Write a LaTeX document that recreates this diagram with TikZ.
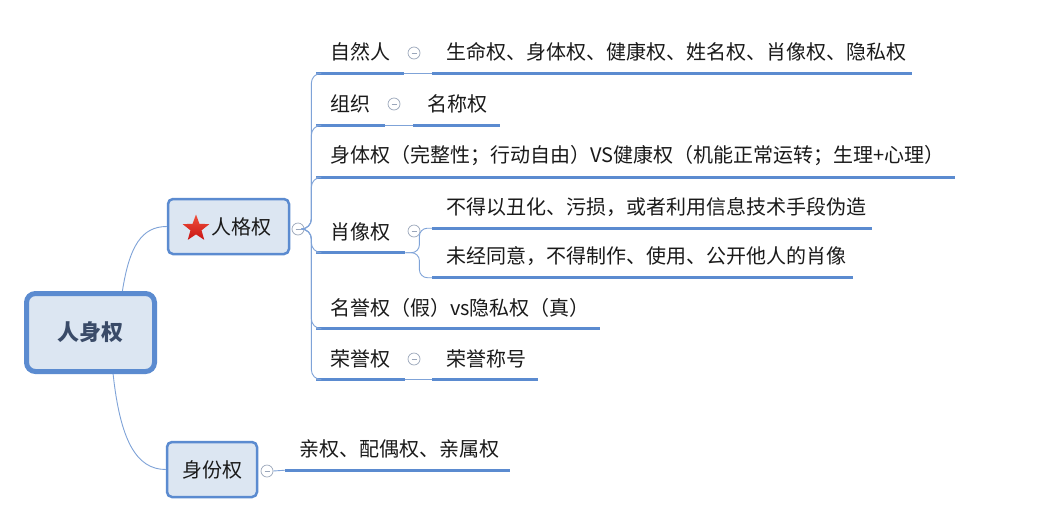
\documentclass[tikz,border=0pt]{standalone}
\usepackage{fontspec}
\setmainfont{Noto Sans CJK SC}
\usetikzlibrary{shapes.geometric,calc}
\definecolor{ln}{HTML}{5B8BD0}
\definecolor{thinln}{HTML}{7FA3D8}
\definecolor{nfill}{HTML}{DCE6F2}
\definecolor{nborder}{HTML}{5B8BD0}
\definecolor{roottext}{HTML}{3A4B68}
\definecolor{txt}{HTML}{1A1A1A}
\definecolor{cbord}{HTML}{9AA6BA}
\definecolor{starA}{HTML}{F0503C}
\definecolor{starB}{HTML}{C81414}
\begin{document}
\begin{tikzpicture}[x=1pt,y=-1pt,
  font=\fontsize{20}{24}\selectfont,
  rootbox/.style={draw=nborder, line width=5pt, fill=nfill, rounded corners=9pt,
    minimum width=128pt, minimum height=78pt, inner sep=0pt, text=roottext,
    font=\fontsize{22}{26}\selectfont\bfseries},
  mainbox/.style={draw=nborder, line width=2.5pt, fill=nfill, rounded corners=5pt,
    inner sep=0pt, minimum height=55pt, text=txt},
  topic/.style={anchor=west, inner xsep=14pt, inner ysep=0pt, minimum height=42pt,
    text width=#1, align=left, text=txt},
  uline/.style={draw=ln, line width=3.2pt},
  thin/.style={draw=thinln, line width=0.9pt},
  fold/.style={circle, draw=cbord, fill=white, line width=0.7pt, minimum size=12pt,
    inner sep=0pt, path picture={\draw[cbord, line width=0.7pt]
      ([xshift=-2.5pt]path picture bounding box.center) --
      ([xshift=2.5pt]path picture bounding box.center);}},
  starnode/.style={star, star points=5, star point ratio=2.4, top color=starA,
    bottom color=starB, draw=none, minimum size=28pt, inner sep=0pt}
]
\useasboundingbox[fill=white] (0,0) rectangle (1043,512);

% main nodes
\node[rootbox] (root) at (90.5,332.5) {人身权};
\node[mainbox, minimum width=121pt] (pg) at (228.5,226.5) {\hspace{26pt}人格权};
\node[starnode] (star) at (196,228.5) {};
\node[mainbox, minimum width=90pt] (sf) at (212,469.5) {身份权};
\node[fold] (f0) at (298,229) {};
\node[fold] (f5) at (267,471) {};

% topics
\node[topic=60pt] (zrr) at (316,52) {自然人};
\node[fold] (f1) at (414,53) {};
\node[topic=452pt] (zrrC) at (432,52) {\mbox{生命权、身体权、健康权、姓名权、肖像权、隐私权}};
\node[topic=41pt] (zz) at (316,104) {组织};
\node[fold] (f2) at (394,104) {};
\node[topic=59pt] (zzC) at (413,104) {名称权};
\node[topic=611pt] (st) at (316,156) {\mbox{身体权（完整性；行动自由）VS健康权（机能正常运转；生理+心理）}};
\node[topic=61pt] (xx) at (316,231.5) {肖像权};
\node[fold] (f3) at (414,231) {};
\node[topic=412pt] (xx1) at (432,207) {\mbox{不得以丑化、污损，或者利用信息技术手段伪造}};
\node[topic=393pt] (xx2) at (432,256.5) {\mbox{未经同意，不得制作、使用、公开他人的肖像}};
\node[topic=256pt] (my) at (316,307.5) {\mbox{名誉权（假）vs隐私权（真）}};
\node[topic=61pt] (ry) at (316,358.5) {荣誉权};
\node[fold] (f4) at (414,359) {};
\node[topic=78pt] (ryC) at (432,358.5) {荣誉称号};
\node[topic=197pt] (sfC) at (285,449) {\mbox{亲权、配偶权、亲属权}};

% underlines
\foreach \n in {zrr,zrrC,zz,zzC,st,xx,xx1,xx2,my,ry,ryC,sfC}
  \draw[uline] (\n.south west) -- (\n.south east);

% root connectors
\coordinate (rt) at ($(root.north west)!0.74!(root.north east)$);
\coordinate (rb) at ($(root.south west)!0.67!(root.south east)$);
\draw[thin] (rt) .. controls ($(rt)+(7,-45)$) and ($(pg.west)+(-25,0)$) .. (pg.west);
\draw[thin] (rb) .. controls ($(rb)+(7,65)$) and ($(sf.west)+(-30,0)$) .. (sf.west);

% spine from 人格权
\coordinate (j0) at ($(f0.east)+(7,0)$);
\foreach \c in {zrr,zz,st,xx,my,ry}
  \draw[thin, rounded corners=10pt] (f0.east) -- (j0) |- (\c.south west);

% 肖像权 children
\coordinate (j3) at ($(xx.south east)+(14,0)$);
\foreach \c in {xx1,xx2}
  \draw[thin, rounded corners=8pt] (xx.south east) -- (j3) |- (\c.south west);

% single-child links
\draw[thin] (zrr.south east) -- (zrrC.south west);
\draw[thin] (zz.south east) -- (zzC.south west);
\draw[thin] (ry.south east) -- (ryC.south west);
\draw[thin] (f5.east) -- (sfC.south west);
\end{tikzpicture}
\end{document}
